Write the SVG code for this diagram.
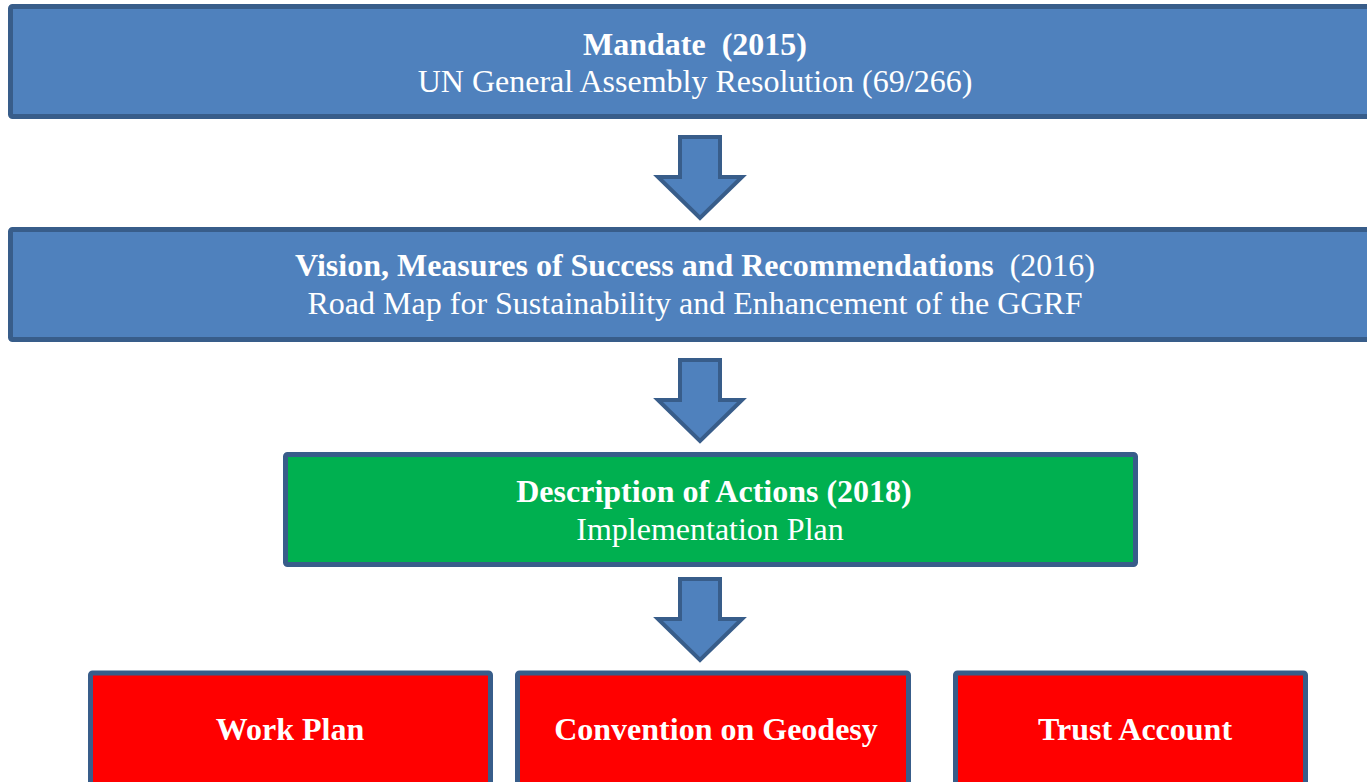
<svg xmlns="http://www.w3.org/2000/svg" width="1367" height="782" viewBox="0 0 1367 782">
<style>
.box{stroke:#385D8A;stroke-width:5}
.blue{fill:#4F81BD}
.green{fill:#00B050}
.red{fill:#FF0000}
.arrow{fill:#4F81BD;stroke:#385D8A;stroke-width:4;stroke-linejoin:miter}
text{font-family:"Liberation Serif","Times New Roman",serif;font-size:32px;fill:#FFFFFF;text-anchor:middle}
.b{font-weight:bold}
</style>
<defs>
<path id="down" d="M680,2 H720 V42 H742 L700,83 L658,42 H680 Z"/>
</defs>
<rect width="1367" height="782" fill="#FFFFFF"/>
<g id="mandate">
<rect class="box blue" x="10.5" y="6.5" width="1370" height="110" rx="2"/>
<text class="b" x="695" y="55" xml:space="preserve">Mandate  (2015)</text>
<text x="695" y="92">UN General Assembly Resolution (69/266)</text>
</g>
<g id="vision">
<rect class="box blue" x="10.5" y="229.5" width="1370" height="110" rx="2"/>
<text x="695" y="276" xml:space="preserve"><tspan class="b">Vision, Measures of Success and Recommendations</tspan>  (2016)</text>
<text x="695" y="314">Road Map for Sustainability and Enhancement of the GGRF</text>
</g>
<g id="actions">
<rect class="box green" x="285.5" y="454.5" width="850" height="110" rx="2"/>
<text class="b" x="714" y="502">Description of Actions (2018)</text>
<text x="710" y="540">Implementation Plan</text>
</g>
<g id="workplan">
<rect class="box red" x="90.5" y="673" width="400" height="130" rx="2"/>
<text class="b" x="290" y="740">Work Plan</text>
</g>
<g id="convention">
<rect class="box red" x="517.5" y="673" width="391" height="130" rx="2"/>
<text class="b" x="716" y="740">Convention on Geodesy</text>
</g>
<g id="trust">
<rect class="box red" x="955.5" y="673" width="350" height="130" rx="2"/>
<text class="b" x="1135" y="740">Trust Account</text>
</g>
<g id="connectors">
<use href="#down" class="arrow" transform="translate(0,135)"/>
<use href="#down" class="arrow" transform="translate(0,358)"/>
<use href="#down" class="arrow" transform="translate(0,577)"/>
</g>
</svg>
